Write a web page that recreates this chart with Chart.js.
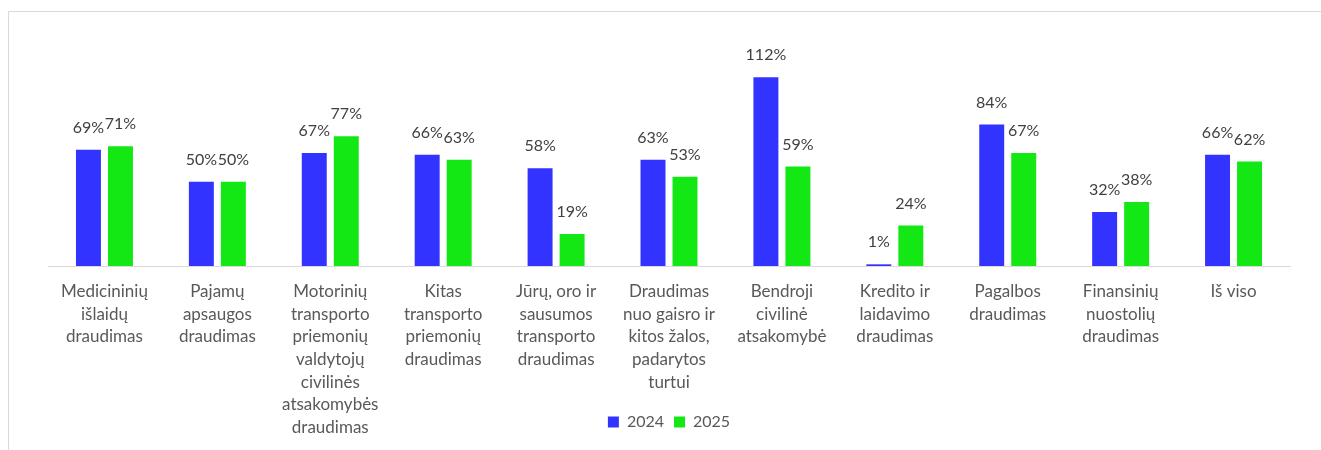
<!DOCTYPE html>
<html>
<head>
<meta charset="utf-8">
<script src="https://cdn.jsdelivr.net/npm/chart.js@4.4.1/dist/chart.umd.min.js"></script>
<style>
  html, body { margin: 0; padding: 0; background: #ffffff; }
  #wrap { width: 1321px; height: 450px; position: relative; }
</style>
</head>
<body>
<div id="wrap"><canvas id="c" width="1321" height="450"></canvas></div>
<script>
const categories = [
  ["Medicininių", "išlaidų", "draudimas"],
  ["Pajamų", "apsaugos", "draudimas"],
  ["Motorinių", "transporto", "priemonių", "valdytojų", "civilinės", "atsakomybės", "draudimas"],
  ["Kitas", "transporto", "priemonių", "draudimas"],
  ["Jūrų, oro ir", "sausumos", "transporto", "draudimas"],
  ["Draudimas", "nuo gaisro ir", "kitos žalos,", "padarytos", "turtui"],
  ["Bendroji", "civilinė", "atsakomybė"],
  ["Kredito ir", "laidavimo", "draudimas"],
  ["Pagalbos", "draudimas"],
  ["Finansinių", "nuostolių", "draudimas"],
  ["Iš viso"]
];
const seriesNames = ["2024", "2025"];
const values2024 = [69, 50, 67, 66, 58, 63, 112, 1, 84, 32, 66];
const values2025 = [71, 50, 77, 63, 19, 53, 59, 24, 67, 38, 62];

const FONT = "Lato, 'Open Sans', sans-serif";

const framePlugin = {
  id: 'frame',
  beforeDraw(chart) {
    const ctx = chart.ctx;
    ctx.save();
    ctx.fillStyle = '#ffffff';
    ctx.fillRect(0, 0, chart.width, chart.height);
    ctx.strokeStyle = '#d9d9d9';
    ctx.lineWidth = 1;
    ctx.beginPath();
    ctx.moveTo(8.5, chart.height);
    ctx.lineTo(8.5, 11.5);
    ctx.lineTo(chart.width, 11.5);
    ctx.stroke();
    ctx.restore();
  }
};

const valueLabels = {
  id: 'valueLabels',
  afterDatasetsDraw(chart) {
    const ctx = chart.ctx;
    ctx.save();
    ctx.font = "16px " + FONT;
    ctx.fillStyle = '#404040';
    ctx.textAlign = 'center';
    ctx.textBaseline = 'middle';
    chart.data.datasets.forEach((ds, di) => {
      const meta = chart.getDatasetMeta(di);
      meta.data.forEach((el, i) => {
        ctx.fillText(ds.data[i] + '%', el.x, el.y - 22);
      });
    });
    ctx.restore();
  }
};

new Chart(document.getElementById('c'), {
  type: 'bar',
  data: {
    labels: categories,
    datasets: [
      { label: seriesNames[0], data: values2024, backgroundColor: '#3333ff', borderWidth: 0,
        barPercentage: 0.78, categoryPercentage: 0.567 },
      { label: seriesNames[1], data: values2025, backgroundColor: '#14e814', borderWidth: 0,
        barPercentage: 0.78, categoryPercentage: 0.567 }
    ]
  },
  options: {
    responsive: false,
    animation: false,
    events: [],
    layout: { padding: { left: 48, right: 31, top: 30, bottom: 10 } },
    plugins: {
      tooltip: { enabled: false },
      legend: {
        position: 'bottom',
        labels: {
          boxWidth: 11, boxHeight: 11, padding: 10,
          color: '#595959',
          font: { family: FONT, size: 16 }
        }
      }
    },
    scales: {
      x: {
        grid: { display: false, drawTicks: false },
        border: { display: true, color: '#d9d9d9', width: 1 },
        ticks: {
          autoSkip: false, maxRotation: 0, minRotation: 0,
          padding: 14,
          color: '#595959',
          font: { family: FONT, size: 17, lineHeight: 1.335 }
        },
        afterFit(scale) {
          scale.height = 138;
          scale._computeLabelArea = () => undefined;
        }
      },
      y: {
        display: false,
        min: 0, max: 140
      }
    }
  },
  plugins: [framePlugin, valueLabels]
});
</script>
</body>
</html>
